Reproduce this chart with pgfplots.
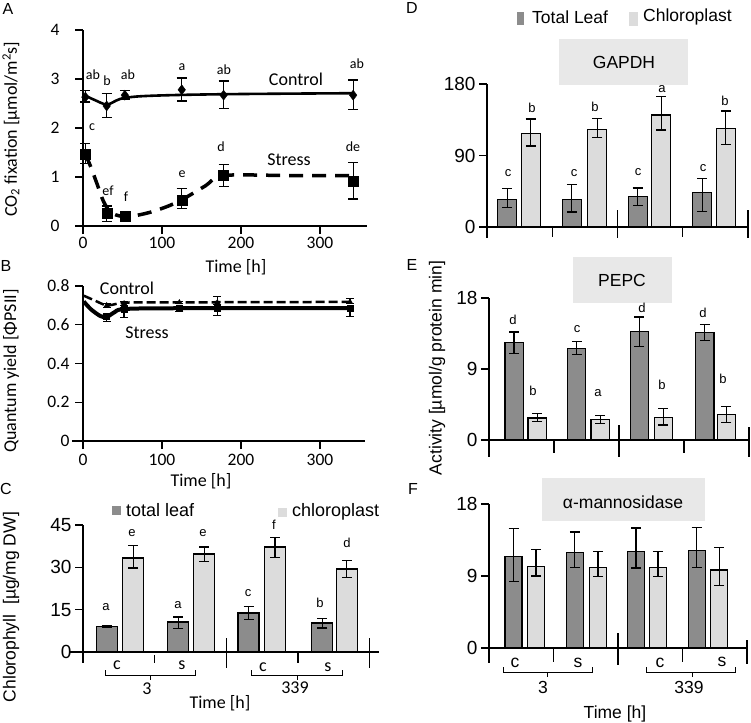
\documentclass[border=0pt]{standalone}
\usepackage{fontspec}
\setmainfont{Liberation Sans}
\newfontfamily\calib{Carlito}
\usepackage{pgfplots}
\pgfplotsset{compat=1.18}
\definecolor{dk}{HTML}{8C8C8C}
\definecolor{lt}{HTML}{DCDCDC}
\definecolor{boxg}{HTML}{E8E8E8}
\newcommand\fT{\fontsize{19}{21}\selectfont}
\newcommand\fC{\calib\fontsize{17.5}{20}\selectfont}
\newcommand\tx[4][]{\node[#1] at (#2pt,-#3pt) {#4};}
\pgfplotsset{
  base/.style={scale only axis, anchor=south west, axis lines=left,
    axis line style={-, line width=1.3pt}, tick align=outside, major tick length=8pt,
    every tick/.style={line width=1.3pt, black}, clip=false, enlargelimits=false,
    /pgf/number format/assume math mode=true, ticklabel style={font=\fT}},
  err/.style={/pgfplots/error bars/y dir=both, /pgfplots/error bars/y explicit,
    /pgfplots/error bars/error bar style={line width=1.2pt},
    /pgfplots/error bars/error mark options={rotate=90, mark size=5pt, line width=1.2pt}},
  bars/.style={ybar, bar shift=0pt, draw=black, line width=1.2pt, err},
}
\begin{document}
\begin{tikzpicture}
\path[use as bounding box] (0pt,0pt) rectangle (751pt,-722pt);
% label boxes
\fill[boxg] (559pt,-39pt) rectangle (688pt,-85pt);
\fill[boxg] (573pt,-257pt) rectangle (672pt,-303pt);
\fill[boxg] (542pt,-478pt) rectangle (705pt,-521pt);

% ---------------- A
\begin{axis}[base, at={(83pt,-226pt)}, width=284pt, height=196pt,
  xmin=0, xmax=359.5, ymin=0, ymax=4, xtick={0,100,200,300}, ytick={0,1,2,3,4},
  yticklabel style={font=\fC, anchor=east, xshift=-12pt},
  xticklabel style={font=\fC, anchor=north, yshift=-2pt, inner sep=1pt}]
\draw[line width=1.3pt] (axis cs:-10,0) -- (axis cs:0,0);
\addplot[line width=2.6pt, smooth, tension=0.6] coordinates
  {(3,2.66)(15,2.57)(30,2.48)(42,2.56)(55,2.62)(90,2.66)(180,2.69)(342,2.71)};
\addplot[only marks, mark=diamond*, mark size=5pt, err]
  table[x=t, y=v, y error plus=p, y error minus=m] {
t v p m
3 2.63 0.13 0.10
30 2.45 0.26 0.23
53 2.67 0.09 0.08
125 2.78 0.24 0.23
178 2.67 0.29 0.28
342 2.67 0.31 0.30
};
\addplot[line width=3.5pt, dash pattern=on 14pt off 9pt, smooth, tension=0.5] coordinates
  {(3,1.47)(10,1.2)(18,0.85)(26,0.5)(35,0.28)(48,0.2)(62,0.2)(85,0.28)(110,0.42)(130,0.58)(155,0.82)(178,1.03)(260,1.03)(342,1.03)};
\addplot[only marks, mark=square*, mark size=5pt, err]
  table[x=t, y=v, y error plus=p, y error minus=m] {
t v p m
3 1.47 0.22 0.20
30 0.27 0.14 0.17
53 0.20 0.02 0.02
125 0.53 0.23 0.18
178 1.03 0.23 0.23
342 0.92 0.37 0.37
};
\end{axis}

% ---------------- B
\begin{axis}[base, at={(83pt,-441pt)}, width=282pt, height=155pt,
  xmin=0, xmax=357, ymin=0, ymax=0.8, xtick={0,100,200,300}, ytick={0,0.2,0.4,0.6,0.8},
  yticklabel style={font=\fC, anchor=east, xshift=-2pt},
  xticklabel style={font=\fC, anchor=north, yshift=-4pt, inner sep=1pt}]
\draw[line width=1.3pt] (axis cs:-14,0) -- (axis cs:0,0);
\addplot[line width=2.5pt, dash pattern=on 9pt off 4pt, smooth] coordinates
  {(1,0.75)(15,0.725)(30,0.70)(45,0.71)(60,0.715)(150,0.716)(340,0.718)};
\addplot[line width=4pt, smooth] coordinates
  {(1,0.72)(10,0.68)(22,0.645)(30,0.64)(40,0.665)(50,0.68)(100,0.685)(340,0.686)};
\addplot[only marks, mark=triangle*, mark size=3pt, err, /pgfplots/error bars/error mark options={rotate=90, mark size=4pt, line width=1pt}]
  table[x=t, y=v, y error plus=p, y error minus=m] {
t v p m
30 0.70 0.01 0.01
52 0.71 0.01 0.01
122 0.715 0.005 0.005
170 0.715 0.033 0.01
338 0.718 0.02 0.01
};
\addplot[only marks, mark=square*, mark size=3pt, err, /pgfplots/error bars/error mark options={rotate=90, mark size=4pt, line width=1pt}]
  table[x=t, y=v, y error plus=p, y error minus=m] {
t v p m
30 0.645 0.01 0.03
52 0.68 0.01 0.04
122 0.685 0.01 0.015
170 0.685 0.01 0.035
338 0.685 0.01 0.04
};
\end{axis}

% ---------------- C
\begin{axis}[base, at={(83pt,-652pt)}, width=296pt, height=127pt,
  xmin=-0.5, xmax=3.63, ymin=0, ymax=45, xtick=\empty, ytick={0,15,30,45}]
\draw[line width=1.3pt] (axis cs:-0.68,0) -- (axis cs:-0.5,0);
\draw[line width=1.3pt] (axis cs:-0.5,0) -- ++(0pt,-11pt);
\draw[line width=1.3pt] ([yshift=-3pt]axis cs:0.5,0) -- ++(0pt,-8pt);
\draw[line width=1.3pt] ([yshift=-1pt]axis cs:2.5,0) -- ++(0pt,-10pt);
\draw[line width=1.3pt] ([yshift=14pt]axis cs:1.5,0) -- ([yshift=-16pt]axis cs:1.5,0);
\draw[line width=1.3pt] ([yshift=14pt]axis cs:3.5,0) -- ([yshift=-16pt]axis cs:3.5,0);
\addplot[bars, bar width=0.293, fill=dk] table[x=x, y=y, y error plus=p, y error minus=m] {
x y p m
-0.17 8.9 0.3 0.3
0.83 10.6 1.8 2.4
1.81 13.8 2.2 2.3
2.84 10.3 1.7 1.8
};
\addplot[bars, bar width=0.293, fill=lt] table[x=x, y=y, y error plus=p, y error minus=m] {
x y p m
0.2 33.3 4.3 3.5
1.19 34.7 2.5 2.5
2.18 37.2 3.3 3.7
3.18 29.4 3.1 2.9
};
\end{axis}

% ---------------- D
\begin{axis}[base, at={(487pt,-227pt)}, width=261pt, height=143pt,
  xmin=-0.5, xmax=3.5, ymin=0, ymax=180, xtick=\empty, ytick={0,90,180}]
\draw[line width=1.3pt] (axis cs:-0.5,0) -- ++(0pt,-11pt);
\draw[line width=1.3pt] (axis cs:0.5,0) -- ++(0pt,-10pt);
\draw[line width=1.3pt] (axis cs:2.5,0) -- ++(0pt,-10pt);
\draw[line width=1.3pt] ([yshift=17pt]axis cs:1.5,0) -- ([yshift=-11pt]axis cs:1.5,0);
\draw[line width=1.3pt] ([yshift=17pt]axis cs:3.5,0) -- ([yshift=-11pt]axis cs:3.5,0);
\addplot[bars, bar width=0.29, fill=dk] table[x=x, y=y, y error plus=p, y error minus=m] {
x y p m
-0.19 35 13 10
0.80 35 19 16
1.81 38 11 11
2.80 43 18 23
};
\addplot[bars, bar width=0.29, fill=lt] table[x=x, y=y, y error plus=p, y error minus=m] {
x y p m
0.17 118 18 16
1.19 123 14 10
2.17 141 23 19
3.16 124 22 20
};
\end{axis}

% ---------------- E
\begin{axis}[base, at={(489pt,-440pt)}, width=260pt, height=142pt,
  xmin=-0.5, xmax=3.5, ymin=0, ymax=18, xtick=\empty, ytick={0,9,18}]
\draw[line width=1.3pt] (axis cs:-0.5,0) -- ++(0pt,-17pt);
\draw[line width=1.3pt] (axis cs:0.5,0) -- ++(0pt,-13pt);
\draw[line width=1.3pt] (axis cs:2.5,0) -- ++(0pt,-13pt);
\draw[line width=1.3pt] ([yshift=15pt]axis cs:1.5,0) -- ([yshift=-17pt]axis cs:1.5,0);
\draw[line width=1.3pt] ([yshift=13pt]axis cs:3.5,0) -- ([yshift=-17pt]axis cs:3.5,0);
\addplot[bars, bar width=0.28, fill=dk] table[x=x, y=y, y error plus=p, y error minus=m] {
x y p m
-0.115 12.4 1.3 1.4
0.85 11.6 0.9 0.8
1.815 13.8 1.8 1.9
2.82 13.6 1.0 1.0
};
\addplot[bars, bar width=0.28, fill=lt] table[x=x, y=y, y error plus=p, y error minus=m] {
x y p m
0.24 2.8 0.6 0.5
1.21 2.6 0.5 0.5
2.18 2.9 1.1 1.0
3.15 3.2 1.0 1.0
};
\end{axis}

% ---------------- F
\begin{axis}[base, at={(489pt,-648pt)}, width=258pt, height=144pt,
  xmin=-0.5, xmax=3.5, ymin=0, ymax=18, xtick=\empty, ytick={0,9,18}]
\draw[line width=1.3pt] (axis cs:-0.5,0) -- ++(0pt,-15pt);
\draw[line width=1.3pt] (axis cs:0.5,0) -- ++(0pt,-14pt);
\draw[line width=1.3pt] (axis cs:2.5,0) -- ++(0pt,-14pt);
\draw[line width=1.3pt] ([yshift=15pt]axis cs:1.5,0) -- ([yshift=-17pt]axis cs:1.5,0);
\draw[line width=1.3pt] ([yshift=8pt]axis cs:3.5,0) -- ([yshift=-16pt]axis cs:3.5,0);
\addplot[bars, bar width=0.264, fill=dk] table[x=x, y=y, y error plus=p, y error minus=m] {
x y p m
-0.12 11.4 3.5 3.1
0.83 11.9 2.6 1.8
1.78 12.1 2.9 2.1
2.72 12.2 2.9 2.1
};
\addplot[bars, bar width=0.264, fill=lt] table[x=x, y=y, y error plus=p, y error minus=m] {
x y p m
0.23 10.2 2.1 1.2
1.19 10.1 2.0 1.2
2.12 10.1 2.0 1.2
3.07 9.75 2.85 1.95
};
\end{axis}

% ---------------- texts
\begin{scope}[font=\fontsize{16}{18}\selectfont]
\tx{8}{9}{A}\tx{6}{266}{B}\tx{6}{489}{C}
\tx{412}{8}{D}\tx{412}{265}{E}\tx{413}{489}{F}
\end{scope}
% A
\begin{scope}[font=\calib\fontsize{14}{16}\selectfont]
\tx{93}{75}{ab}\tx{107}{81}{b}\tx{128}{75}{ab}\tx{182}{67}{a}\tx{224}{70}{ab}\tx{357}{64}{ab}
\tx{92}{127}{c}\tx{108}{191}{ef}\tx{126}{197}{f}\tx{182}{174}{e}\tx{221}{147}{d}\tx{353}{147}{de}
\end{scope}
\begin{scope}[font=\calib\fontsize{18}{20}\selectfont]
\tx{296}{79}{Control}\tx{289}{160}{Stress}
\tx[inner sep=1pt]{236}{267}{Time [h]}
\tx{127}{288}{Control}\tx{147}{333}{Stress}
\tx{201}{481}{Time [h]}
\tx[rotate=90]{11}{129}{CO\textsubscript{2} fixation [µmol/m\textsuperscript{2}s]}
\tx[rotate=90]{11}{371}{Quantum yield [ΦPSII]}
\tx{117}{665}{c}\tx{182}{665}{s}\tx{263}{667}{c}\tx{328}{667}{s}
\tx{147}{689}{3}\tx{295}{688}{339}\tx{220}{703}{Time [h]}
\end{scope}
\tx[rotate=90, font=\fontsize{17.5}{20}\selectfont]{11}{607}{Chlorophyll\ \ [µg/mg DW]}
% C brackets
\draw[line width=1pt] (105pt,-670pt) -- (105pt,-675pt) -- (195pt,-675pt) -- (195pt,-670pt);
\draw[line width=1pt] (150pt,-675pt) -- (150pt,-680pt);
\draw[line width=1pt] (251pt,-670pt) -- (251pt,-675pt) -- (342pt,-675pt) -- (342pt,-670pt);
\draw[line width=1pt] (297pt,-675pt) -- (297pt,-680pt);
% C legend
\fill[dk] (112pt,-506pt) rectangle (121pt,-515pt);
\tx[anchor=west, font=\fontsize{18}{20}\selectfont, inner sep=0pt]{126}{510}{total leaf}
\fill[lt] (278pt,-508pt) rectangle (287pt,-517pt);
\tx[anchor=west, font=\fontsize{18}{20}\selectfont, inner sep=0pt]{292}{512}{chloroplast}
% C letters
\begin{scope}[font=\fontsize{13}{15}\selectfont]
\tx{106}{607}{a}\tx{132}{533}{e}\tx{178}{605}{a}\tx{203}{533}{e}
\tx{248}{593}{c}\tx{274}{525}{f}\tx{320}{603}{b}\tx{347}{543}{d}
% D letters
\tx{508}{173}{c}\tx{532}{108}{b}\tx{574}{173}{c}\tx{595}{107}{b}
\tx{638}{172}{c}\tx{662}{89}{a}\tx{703}{168}{c}\tx{725}{101}{b}
% E letters
\tx{513}{320}{d}\tx{533}{391}{b}\tx{577}{329}{c}\tx{598}{393}{a}
\tx{642}{308}{d}\tx{662}{385}{b}\tx{703}{313}{d}\tx{723}{379}{b}
\end{scope}
% D legend
\fill[dk] (517pt,-12pt) rectangle (524pt,-25pt);
\tx[anchor=west, font=\fontsize{17.5}{20}\selectfont, inner sep=0pt]{532}{17}{Total Leaf}
\fill[lt] (629pt,-12pt) rectangle (638pt,-26pt);
\tx[anchor=west, font=\fontsize{17.5}{20}\selectfont, inner sep=0pt]{643}{17}{Chloroplast}
% box titles
\begin{scope}[font=\fontsize{17.5}{20}\selectfont]
\tx{624}{62}{GAPDH}\tx{622}{280}{PEPC}\tx{623}{502}{α-mannosidase}
\tx[rotate=90]{437}{368}{Activity [µmol/g protein min]}
\tx{515}{663}{c}\tx{578}{663}{s}\tx{660}{663}{c}\tx{722}{662}{s}
\tx{543}{687}{3}\tx{689}{687}{339}\tx{615}{714}{Time [h]}
\end{scope}
% F brackets
\draw[line width=1pt] (503pt,-667pt) -- (503pt,-672pt) -- (592pt,-672pt) -- (592pt,-667pt);
\draw[line width=1pt] (547pt,-672pt) -- (547pt,-677pt);
\draw[line width=1pt] (646pt,-667pt) -- (646pt,-672pt) -- (735pt,-672pt) -- (735pt,-667pt);
\draw[line width=1pt] (692pt,-672pt) -- (692pt,-677pt);
\end{tikzpicture}
\end{document}
